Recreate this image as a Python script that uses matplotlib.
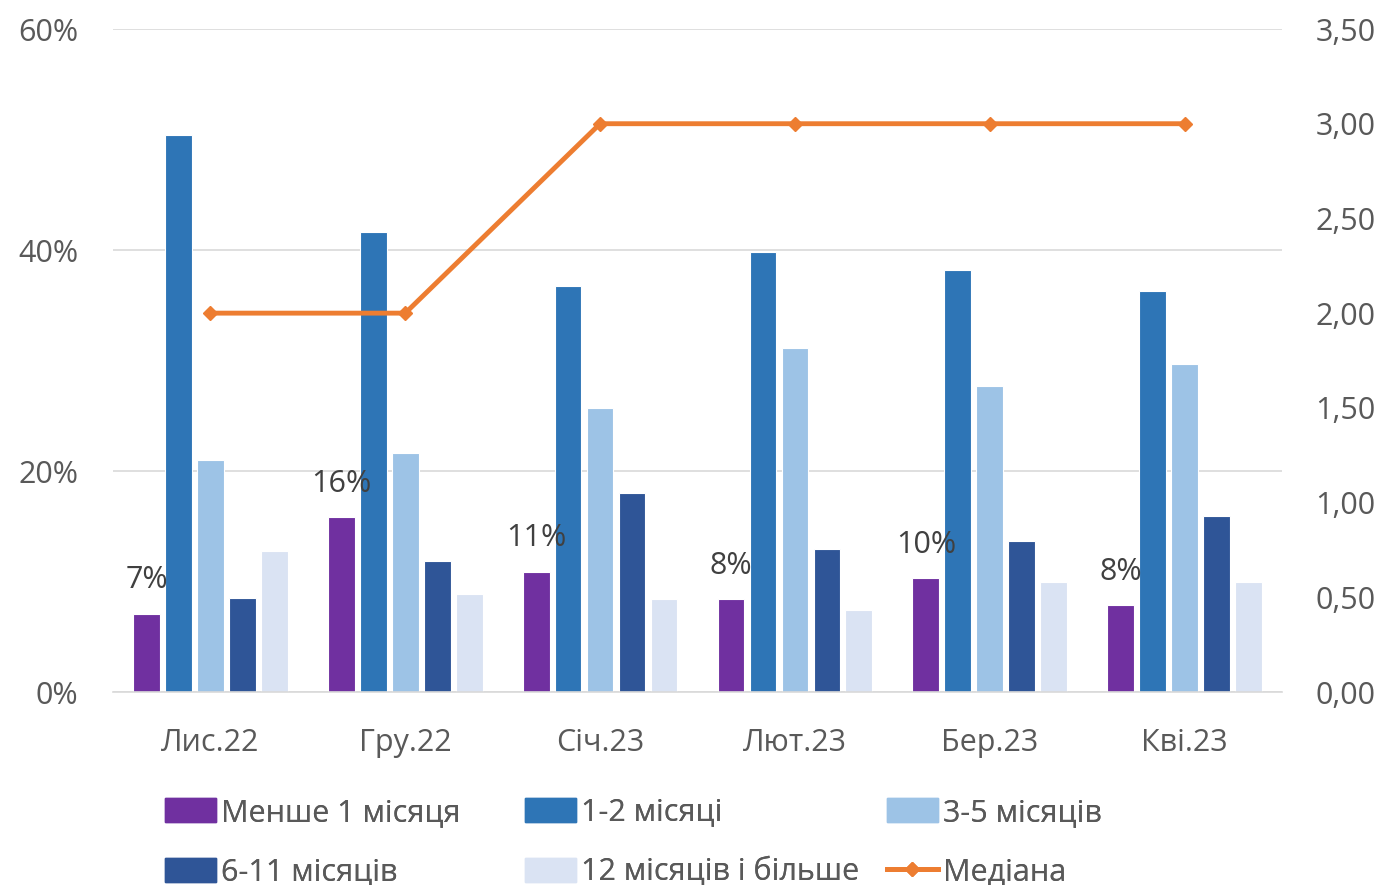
import numpy as np
import matplotlib.pyplot as plt
from matplotlib.ticker import FuncFormatter
from matplotlib.lines import Line2D
import matplotlib.patches as mpatches

plt.rcParams['font.family'] = ['Open Sans', 'DejaVu Sans']

# ── Data ───────────────────────────────────────────────────────────
months = ["Лис.22", "Гру.22", "Січ.23", "Лют.23", "Бер.23", "Кві.23"]
less_1 = [7.1, 15.8, 10.9, 8.4, 10.3, 7.9]
m1_2 = [50.4, 41.6, 36.7, 39.8, 38.2, 36.3]
m3_5 = [21.0, 21.6, 25.7, 31.1, 27.7, 29.7]
m6_11 = [8.5, 11.9, 18.0, 12.9, 13.7, 15.9]
m12_plus = [12.8, 8.9, 8.4, 7.4, 10.0, 10.0]
median = [2.0, 2.0, 3.0, 3.0, 3.0, 3.0]
less_1_labels = ["7%", "16%", "11%", "8%", "10%", "8%"]

series_names = ["Менше 1 місяця", "1-2 місяці", "3-5 місяців",
                "6-11 місяців", "12 місяців і більше"]
series_colors = ["#7030A0", "#2E75B6", "#9DC3E6", "#2F5597", "#DAE3F3"]
C_MEDIAN = "#ED7D31"
C_TEXT = "#595959"
FS = 22

fig = plt.figure(figsize=(13.87, 8.85), dpi=100)
ax = fig.add_axes([113 / 1387, 1 - 692 / 885, 1169 / 1387, 663 / 885])
ax2 = ax.twinx()

x = np.arange(len(months))
step = 0.164
width = 0.137
all_series = [less_1, m1_2, m3_5, m6_11, m12_plus]
for i, (vals, col) in enumerate(zip(all_series, series_colors)):
    ax.bar(x + (i - 2) * step, vals, width=width, color=col,
           edgecolor="white", linewidth=0.8, zorder=2)

# labels above the "less than 1 month" bars
for xi, v, lab in zip(x, less_1, less_1_labels):
    ax.text(xi - 2 * step, v + 3.0, lab, ha="center", va="center",
            fontsize=FS, color="#404040", zorder=4)

ax.set_xlim(-0.5, len(months) - 0.5)
ax.set_ylim(0, 60)
ax.set_yticks([0, 20, 40, 60])
ax.yaxis.set_major_formatter(FuncFormatter(lambda v, p: f"{v:.0f}%"))
ax.set_xticks(x)
ax.set_xticklabels(months)
ax.grid(axis="y", color="#D9D9D9", linewidth=1.2, zorder=0)
ax.set_axisbelow(True)

ax2.plot(x, median, color=C_MEDIAN, linewidth=3.5, marker="D",
         markersize=7, zorder=5)
ax2.set_ylim(0, 3.5)
ax2.set_yticks(np.arange(0, 3.51, 0.5))
ax2.yaxis.set_major_formatter(
    FuncFormatter(lambda v, p: f"{v:.2f}".replace(".", ",")))

for a in (ax, ax2):
    for s in a.spines.values():
        s.set_visible(False)
    a.tick_params(length=0, labelsize=FS, colors=C_TEXT)
ax.spines["bottom"].set_visible(True)
ax.spines["bottom"].set_color("#D9D9D9")
ax.spines["bottom"].set_linewidth(1.2)
ax.tick_params(axis="y", pad=25)
ax.tick_params(axis="x", pad=26)
ax2.tick_params(axis="y", pad=24)

# ── Legend: three fixed-width columns, filled row by row ───────────
handles = [mpatches.Patch(color=c, label=n)
           for c, n in zip(series_colors, series_names)]
handles.append(Line2D([], [], color=C_MEDIAN, linewidth=3.5, marker="D",
                      markersize=7, label="Медіана"))
col_x = [137, 497, 859]
for c, x0 in enumerate(col_x):
    leg = fig.legend(handles=[handles[c], handles[c + 3]], ncol=1,
                     loc="lower left", bbox_to_anchor=(x0 / 1387, -0.034),
                     frameon=False, fontsize=FS, labelcolor=C_TEXT,
                     handlelength=1.7, handleheight=0.8, handletextpad=0.15,
                     labelspacing=0.98)
    fig.add_artist(leg)

fig.savefig("out.png", dpi=100)
